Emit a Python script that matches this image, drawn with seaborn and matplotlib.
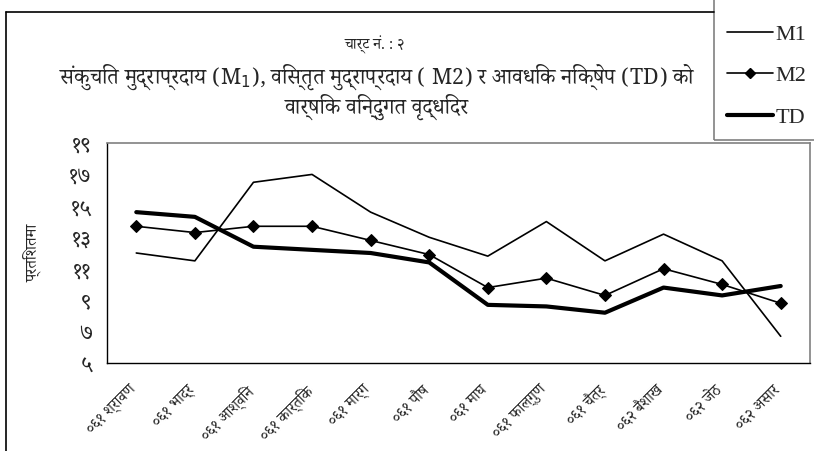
import numpy as np
import pandas as pd
import matplotlib
matplotlib.use('Agg')
import matplotlib.pyplot as plt
import matplotlib.transforms as mtransforms
import seaborn as sns
from matplotlib import font_manager
from matplotlib.ft2font import FT2Font
from matplotlib.lines import Line2D
from matplotlib.patches import Rectangle

# === DATA ===
months = ['०६१ श्रावण', '०६१ भाद्र', '०६१ आश्विन', '०६१ कार्तिक', '०६१ मार्ग', '०६१ पौष',
          '०६१ माघ', '०६१ फाल्गुण', '०६१ चैत्र', '०६२ बैशाख', '०६२ जेठ', '०६२ असार']
m1 = [12.0, 11.5, 16.5, 17.0, 14.6, 13.0, 11.8, 14.0, 11.5, 13.2, 11.5, 6.7]
m2 = [13.7, 13.3, 13.7, 13.7, 12.8, 11.9, 9.8, 10.4, 9.3, 11.0, 10.0, 8.8]
td = [14.6, 14.3, 12.4, 12.2, 12.0, 11.4, 8.7, 8.6, 8.2, 9.8, 9.3, 9.9]
y_ticks = [5, 7, 9, 11, 13, 15, 17, 19]
y_tick_labels = ['५', '७', '९', '११', '१३', '१५', '१७', '१९']

title_top = 'चार्ट नं. : २'
title_main = 'संकुचित मुद्राप्रदाय (M$_1$), विस्तृत मुद्राप्रदाय ( M2) र आवधिक निक्षेप (TD) को'
title_sub = 'वार्षिक विन्दुगत वृद्धिदर'
y_label = 'प्रतिशतमा'

# === FONT: pick an installed font with Devanagari glyphs (avoid monospace ones) ===
candidates = []
for f in font_manager.fontManager.ttflist:
    try:
        if ord('क') in FT2Font(f.fname).get_charmap():
            candidates.append(f.name)
    except Exception:
        pass

def score(name):
    n = name.lower()
    s = 0
    if 'mono' in n or 'code' in n:
        s += 10
    if 'devanagari' in n or 'lohit' in n or 'mukta' in n or 'kalimati' in n:
        s -= 3
    if 'serif' in n:
        s -= 1
    return s

candidates = sorted(set(candidates), key=score)
deva_family = (candidates[:1] + ['DejaVu Sans']) if candidates else ['DejaVu Sans']

sns.set_style('white')
plt.rcParams['font.family'] = deva_family

df = pd.DataFrame({'महिना': months, 'M1': m1, 'M2': m2, 'TD': td})

W, H = 814, 451
fig = plt.figure(figsize=(W / 100, H / 100), dpi=100)
ax = fig.add_axes([107 / W, 1 - 363 / H, (810 - 107) / W, (363 - 143) / H])

sns.lineplot(data=df, x='महिना', y='M1', ax=ax, color='black', linewidth=1.2, sort=False)
sns.lineplot(data=df, x='महिना', y='M2', ax=ax, color='black', linewidth=1.2, sort=False,
             marker='D', markersize=6.5, markeredgecolor='black')
sns.lineplot(data=df, x='महिना', y='TD', ax=ax, color='black', linewidth=3, sort=False)

ax.set_xlim(-0.5, len(months) - 0.5)
ax.set_ylim(5, 19)
ax.set_yticks(y_ticks)
ax.set_yticklabels(y_tick_labels, fontsize=16)
ax.set_xticks(np.arange(-0.5, len(months), 1))
ax.set_xticklabels([])
ax.set_xticks(range(len(months)), minor=True)
ax.set_xticklabels(months, minor=True, rotation=45, ha='right', rotation_mode='anchor',
                   fontsize=11)
ax.tick_params(axis='x', which='major', length=5, width=1, color='black', direction='out')
ax.tick_params(axis='x', which='minor', length=0, pad=14)
ax.tick_params(axis='y', length=5, width=1, color='black', direction='out', pad=6)
# nudge the rotated month labels a little left of the category centre
shift = mtransforms.ScaledTranslation(-8 / 100, 0, fig.dpi_scale_trans)
for lab in ax.get_xticklabels(minor=True):
    lab.set_transform(lab.get_transform() + shift)
ax.set_xlabel('')
ax.set_ylabel(y_label, fontsize=11.5, labelpad=20)

for s in ['left', 'bottom']:
    ax.spines[s].set_color('black')
    ax.spines[s].set_linewidth(1)
for s in ['top', 'right']:
    ax.spines[s].set_color('#808080')
    ax.spines[s].set_linewidth(1.2)

# titles
fig.text(375 / W, 1 - 45 / H, title_top, ha='center', va='center', fontsize=11)
main = fig.text(377 / W, 1 - 77 / H, title_main, ha='center', va='center', fontsize=17)
sub = fig.text(377 / W, 1 - 107 / H, title_sub, ha='center', va='center', fontsize=17)

# shrink the long title line until it spans about x=55 .. x=700
fig.canvas.draw()
r = fig.canvas.get_renderer()
while main.get_window_extent(r).width > 645 and main.get_fontsize() > 6:
    main.set_fontsize(main.get_fontsize() - 0.25)
sub.set_fontsize(main.get_fontsize())

# outer frame
fig.add_artist(Line2D([6 / W, 714 / W], [1 - 12 / H, 1 - 12 / H], transform=fig.transFigure,
                      color='black', linewidth=1.2))
fig.add_artist(Line2D([6 / W, 6 / W], [1 - 12 / H, 0], transform=fig.transFigure,
                      color='black', linewidth=1.2))

# legend box
fig.add_artist(Rectangle((714 / W, 1 - 140 / H), 0.2, 0.4, transform=fig.transFigure,
                         fill=False, edgecolor='#808080', linewidth=1.2))
handles = [Line2D([], [], color='black', linewidth=1.2),
           Line2D([], [], color='black', linewidth=1.2, marker='D', markersize=5),
           Line2D([], [], color='black', linewidth=3)]
fig.legend(handles, ['M1', 'M2', 'TD'], loc='upper left', bbox_to_anchor=(727 / W, 1 - 24 / H),
           frameon=False, prop={'family': 'Liberation Serif', 'size': 16},
           handlelength=2.05, handletextpad=0.12, labelspacing=0.95, borderaxespad=0,
           borderpad=0)

fig.savefig('out.png', dpi=100)
